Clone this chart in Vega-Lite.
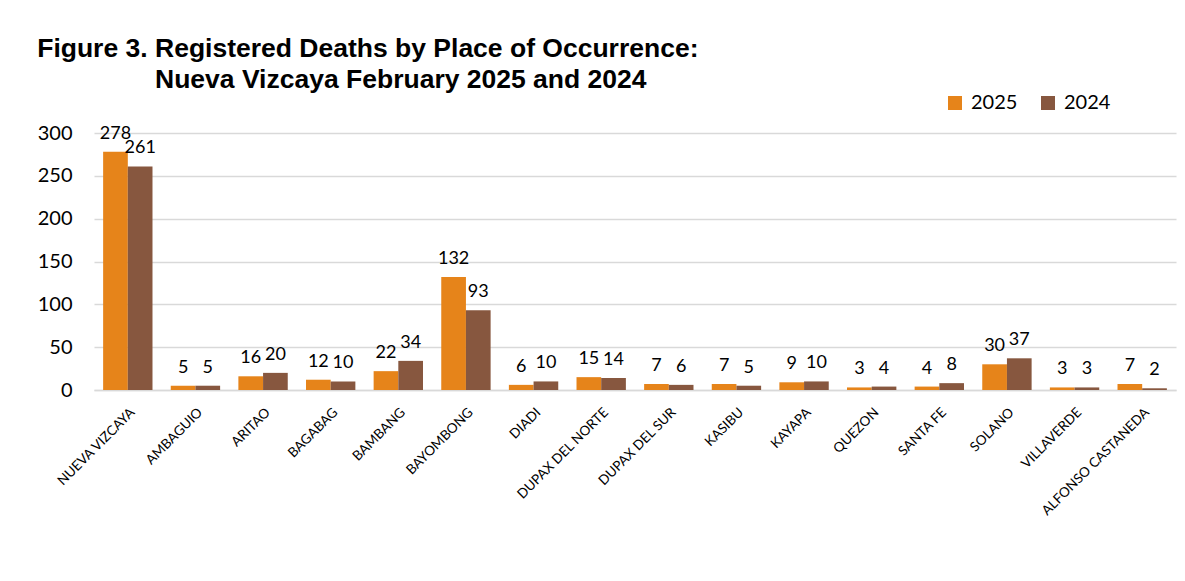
{
  "$schema": "https://vega.github.io/schema/vega-lite/v6.json",
  "width": 1082,
  "height": 257,
  "padding": {"left": 37, "top": 35, "right": 5, "bottom": 5},
  "background": "white",
  "title": {
    "text": ["Figure 3. Registered Deaths by Place of Occurrence:", "\u200b\u00a0\u00a0\u00a0\u00a0\u00a0\u00a0\u00a0\u00a0\u00a0\u00a0\u00a0\u00a0\u00a0\u00a0\u00a0\u00a0Nueva Vizcaya February 2025 and 2024"],
    "font": "Liberation Sans",
    "fontWeight": "bold",
    "fontSize": 26.5,
    "lineHeight": 31,
    "anchor": "start",
    "frame": "bounds",
    "color": "#000000",
    "offset": 0
  },
  "data": {
    "values": [
      {"place": "NUEVA VIZCAYA", "year": "2025", "deaths": 278},
      {"place": "NUEVA VIZCAYA", "year": "2024", "deaths": 261},
      {"place": "AMBAGUIO", "year": "2025", "deaths": 5},
      {"place": "AMBAGUIO", "year": "2024", "deaths": 5},
      {"place": "ARITAO", "year": "2025", "deaths": 16},
      {"place": "ARITAO", "year": "2024", "deaths": 20},
      {"place": "BAGABAG", "year": "2025", "deaths": 12},
      {"place": "BAGABAG", "year": "2024", "deaths": 10},
      {"place": "BAMBANG", "year": "2025", "deaths": 22},
      {"place": "BAMBANG", "year": "2024", "deaths": 34},
      {"place": "BAYOMBONG", "year": "2025", "deaths": 132},
      {"place": "BAYOMBONG", "year": "2024", "deaths": 93},
      {"place": "DIADI", "year": "2025", "deaths": 6},
      {"place": "DIADI", "year": "2024", "deaths": 10},
      {"place": "DUPAX DEL NORTE", "year": "2025", "deaths": 15},
      {"place": "DUPAX DEL NORTE", "year": "2024", "deaths": 14},
      {"place": "DUPAX DEL SUR", "year": "2025", "deaths": 7},
      {"place": "DUPAX DEL SUR", "year": "2024", "deaths": 6},
      {"place": "KASIBU", "year": "2025", "deaths": 7},
      {"place": "KASIBU", "year": "2024", "deaths": 5},
      {"place": "KAYAPA", "year": "2025", "deaths": 9},
      {"place": "KAYAPA", "year": "2024", "deaths": 10},
      {"place": "QUEZON", "year": "2025", "deaths": 3},
      {"place": "QUEZON", "year": "2024", "deaths": 4},
      {"place": "SANTA FE", "year": "2025", "deaths": 4},
      {"place": "SANTA FE", "year": "2024", "deaths": 8},
      {"place": "SOLANO", "year": "2025", "deaths": 30},
      {"place": "SOLANO", "year": "2024", "deaths": 37},
      {"place": "VILLAVERDE", "year": "2025", "deaths": 3},
      {"place": "VILLAVERDE", "year": "2024", "deaths": 3},
      {"place": "ALFONSO CASTANEDA", "year": "2025", "deaths": 7},
      {"place": "ALFONSO CASTANEDA", "year": "2024", "deaths": 2}
    ]
  },
  "encoding": {
    "x": {
      "field": "place",
      "type": "nominal",
      "sort": null,
      "scale": {"paddingInner": 0.27, "paddingOuter": 0.135},
      "axis": {
        "title": null,
        "labelAngle": -45,
        "labelAlign": "right",
        "labelBaseline": "top",
        "labelFont": "Lato",
        "labelFontSize": 13.5,
        "labelColor": "#000000",
        "labelPadding": 15,
        "ticks": false,
        "domainColor": "#D9D9D9",
        "domainWidth": 1.5
      }
    },
    "xOffset": {"field": "year", "type": "nominal", "sort": ["2025", "2024"], "scale": {"paddingInner": 0, "paddingOuter": 0}},
    "y": {
      "field": "deaths",
      "type": "quantitative",
      "scale": {"domain": [0, 300], "nice": false},
      "axis": {
        "title": null,
        "values": [0, 50, 100, 150, 200, 250, 300],
        "labelFont": "Lato",
        "labelFontSize": 20,
        "labelColor": "#000000",
        "labelPadding": 22,
        "ticks": false,
        "domain": false,
        "gridColor": "#D9D9D9",
        "gridWidth": 1.5
      }
    }
  },
  "layer": [
    {
      "mark": {"type": "bar"},
      "encoding": {
        "color": {
          "field": "year",
          "type": "nominal",
          "sort": ["2025", "2024"],
          "scale": {"domain": ["2025", "2024"], "range": ["#E6841A", "#87573F"]},
          "legend": {
            "title": null,
            "orient": "none",
            "legendX": 851,
            "legendY": -40,
            "direction": "horizontal",
            "symbolType": "square",
            "symbolSize": 196,
            "symbolStrokeWidth": 0,
            "labelFont": "Lato",
            "labelFontSize": 20,
            "labelColor": "#000000",
            "labelOffset": 6,
            "columnPadding": 20
          }
        }
      }
    },
    {
      "mark": {"type": "text", "baseline": "alphabetic", "dy": -13, "font": "Lato", "fontSize": 18, "color": "#000000"},
      "encoding": {
        "text": {"field": "deaths", "type": "quantitative"}
      }
    }
  ],
  "config": {
    "view": {"stroke": null}
  }
}
